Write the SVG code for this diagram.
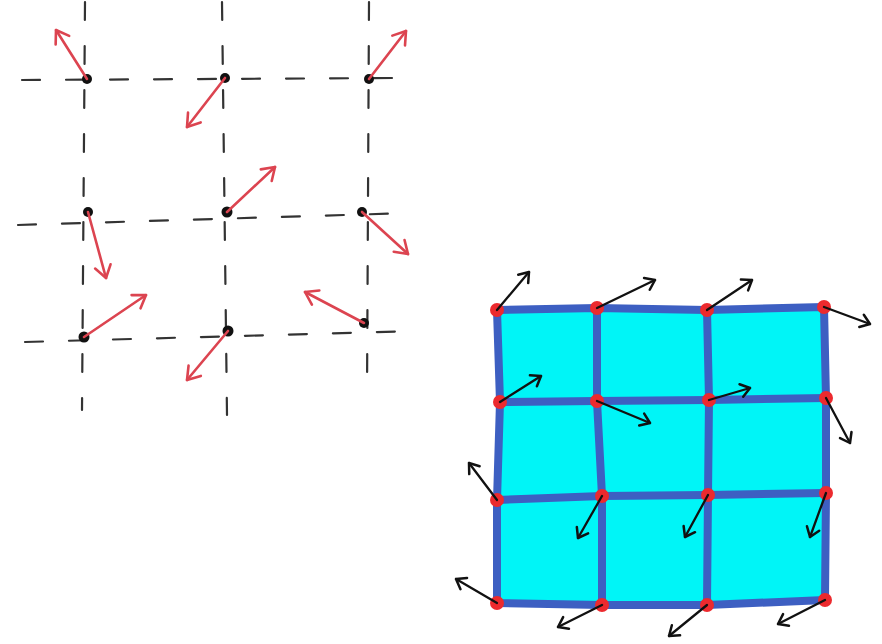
<svg xmlns="http://www.w3.org/2000/svg" width="882" height="644" viewBox="0 0 882 644">
<style>
.dash{fill:none;stroke:#333;stroke-width:2.2;stroke-dasharray:18 26;stroke-linecap:round}
.dot{fill:#111}
.ra{fill:none;stroke:#dc4450;stroke-width:2.6;stroke-linecap:round;marker-end:url(#mr)}
.ba{fill:none;stroke:#111;stroke-width:2.3;stroke-linecap:round;marker-end:url(#mb)}
.grid{fill:none;stroke:#3d5fc2;stroke-width:8;stroke-linejoin:round;stroke-linecap:round}
.rd{fill:#ec2a2e}
</style>
<defs>
<marker id="mr" markerUnits="userSpaceOnUse" viewBox="-14 -10 16 20" markerWidth="16" markerHeight="20" refX="0" refY="0" orient="auto">
<path d="M-12,-8 L0,0 L-12,8" fill="none" stroke="#dc4450" stroke-width="2.6" stroke-linecap="round" stroke-linejoin="round"/>
</marker>
<marker id="mb" markerUnits="userSpaceOnUse" viewBox="-14 -9 16 18" markerWidth="16" markerHeight="18" refX="0" refY="0" orient="auto">
<path d="M-9,-6.5 L0,0 L-9,6.5" fill="none" stroke="#111" stroke-width="2.5" stroke-linecap="round" stroke-linejoin="round"/>
</marker>
</defs>
<rect width="882" height="644" fill="#fff"/>
<g id="left-grid">
<path class="dash" d="M22,80 L395,78"/>
<path class="dash" d="M18,225 L410,213"/>
<path class="dash" d="M25,342 L415,331"/>
<path class="dash" d="M85,2 L82,410"/>
<path class="dash" d="M222,2 L227,415"/>
<path class="dash" d="M369,2 L367,395"/>
</g>
<g id="left-nodes">
<g id="p00"><circle class="dot" cx="87" cy="79" r="5"/></g>
<g id="p01"><circle class="dot" cx="225" cy="78" r="5"/></g>
<g id="p02"><circle class="dot" cx="369" cy="79" r="5"/></g>
<g id="p10"><circle class="dot" cx="88" cy="212" r="5"/></g>
<g id="p11"><circle class="dot" cx="227" cy="212" r="5.5"/></g>
<g id="p12"><circle class="dot" cx="362" cy="212" r="5"/></g>
<g id="p20"><circle class="dot" cx="84" cy="337" r="5.5"/></g>
<g id="p21"><circle class="dot" cx="228" cy="331" r="5.5"/></g>
<g id="p22"><circle class="dot" cx="364" cy="323" r="5"/></g>
</g>
<g id="left-connectors">
<path class="ra" d="M87,79 L56,30"/>
<path class="ra" d="M225,78 L187,127"/>
<path class="ra" d="M369,79 L406,31"/>
<path class="ra" d="M88,212 L106,278"/>
<path class="ra" d="M227,212 L275,167"/>
<path class="ra" d="M362,212 L408,254"/>
<path class="ra" d="M84,337 L146,295"/>
<path class="ra" d="M228,331 L187,380"/>
<path class="ra" d="M364,323 L305,292"/>
</g>
<g id="mesh">
<path d="M497,310 L597,308 L707,310 L824,307 L826,398 L826,493 L825,600 L707,605 L602,605 L497,603 L497,500 L500,402 Z" fill="#00f5f7"/>
<path class="grid" d="M497,310 L597,308 L707,310 L824,307 L826,398 L826,493 L825,600 L707,605 L602,605 L497,603 L497,500 L500,402 Z"/>
<path class="grid" d="M500,402 L597,401 L709,400 L826,398"/>
<path class="grid" d="M497,500 L602,496 L708,495 L826,493"/>
<path class="grid" d="M597,308 L597,401 L602,496 L602,605"/>
<path class="grid" d="M707,310 L709,400 L708,495 L707,605"/>
</g>
<g id="mesh-nodes">
<g id="n00"><circle class="rd" cx="497" cy="310" r="7"/></g>
<g id="n01"><circle class="rd" cx="597" cy="308" r="7"/></g>
<g id="n02"><circle class="rd" cx="707" cy="310" r="7"/></g>
<g id="n03"><circle class="rd" cx="824" cy="307" r="7"/></g>
<g id="n10"><circle class="rd" cx="500" cy="402" r="7"/></g>
<g id="n11"><circle class="rd" cx="597" cy="401" r="7"/></g>
<g id="n12"><circle class="rd" cx="709" cy="400" r="7"/></g>
<g id="n13"><circle class="rd" cx="826" cy="398" r="7"/></g>
<g id="n20"><circle class="rd" cx="497" cy="500" r="7"/></g>
<g id="n21"><circle class="rd" cx="602" cy="496" r="7"/></g>
<g id="n22"><circle class="rd" cx="708" cy="495" r="7"/></g>
<g id="n23"><circle class="rd" cx="826" cy="493" r="7"/></g>
<g id="n30"><circle class="rd" cx="497" cy="603" r="7"/></g>
<g id="n31"><circle class="rd" cx="602" cy="605" r="7"/></g>
<g id="n32"><circle class="rd" cx="707" cy="605" r="7"/></g>
<g id="n33"><circle class="rd" cx="825" cy="600" r="7"/></g>
</g>
<g id="mesh-connectors">
<path class="ba" d="M497,310 L529,272"/>
<path class="ba" d="M597,308 L655,280"/>
<path class="ba" d="M707,310 L752,280"/>
<path class="ba" d="M824,307 L870,324"/>
<path class="ba" d="M500,402 L541,376"/>
<path class="ba" d="M597,401 L650,423"/>
<path class="ba" d="M709,400 L750,388"/>
<path class="ba" d="M826,398 L850,443"/>
<path class="ba" d="M497,500 L469,463"/>
<path class="ba" d="M602,496 L578,538"/>
<path class="ba" d="M708,495 L685,537"/>
<path class="ba" d="M826,493 L810,537"/>
<path class="ba" d="M497,603 L456,579"/>
<path class="ba" d="M602,605 L558,627"/>
<path class="ba" d="M707,605 L669,636"/>
<path class="ba" d="M825,600 L778,624"/>
</g>
</svg>
